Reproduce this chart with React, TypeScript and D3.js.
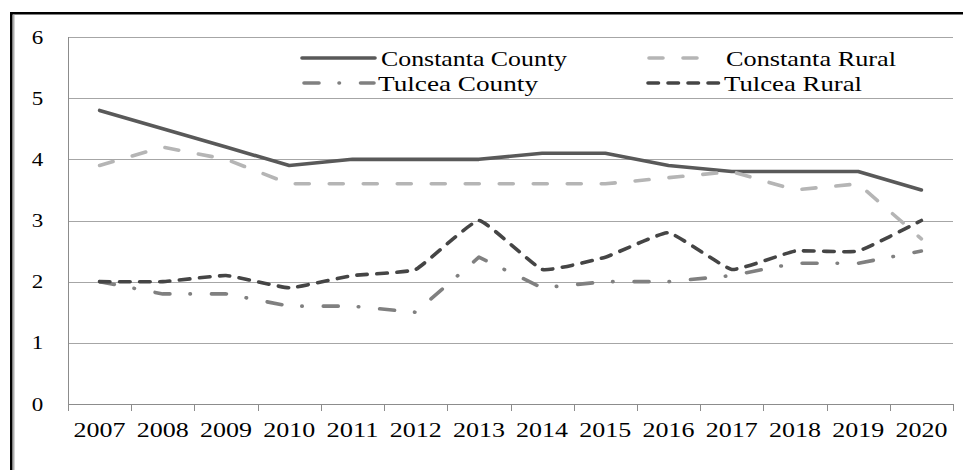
import React from "react";
import * as d3 from "d3";

const years = ["2007","2008","2009","2010","2011","2012","2013","2014","2015","2016","2017","2018","2019","2020"];
const constantaCounty = [4.8,4.5,4.2,3.9,4.0,4.0,4.0,4.1,4.1,3.9,3.8,3.8,3.8,3.5];
const constantaRural = [3.9,4.2,4.0,3.6,3.6,3.6,3.6,3.6,3.6,3.7,3.8,3.5,3.6,2.7];
const tulceaCounty = [2.0,1.8,1.8,1.6,1.6,1.5,2.4,1.9,2.0,2.0,2.1,2.3,2.3,2.5];
const tulceaRural = [2.0,2.0,2.1,1.9,2.1,2.2,3.0,2.2,2.4,2.8,2.2,2.5,2.5,3.0];
const yTicks = [0,1,2,3,4,5,6];

const W = 963, H = 470;
const plot = { left: 68, right: 953, top: 37, bottom: 404 };
const FONT = "'Liberation Serif', 'Times New Roman', serif";

type S = { name: string; values: number[]; color: string; dash: string; smooth: boolean; lx: number; ly: number; lx2: number; tx: number; tw: number };

const series: S[] = [
  { name: "Constanta County", values: constantaCounty, color: "#595959", dash: "none", smooth: false, lx: 302, lx2: 375, ly: 58, tx: 381, tw: 186 },
  { name: "Constanta Rural", values: constantaRural, color: "#b5b5b5", dash: "14,20", smooth: false, lx: 649, lx2: 702, ly: 58, tx: 726, tw: 170 },
  { name: "Tulcea County", values: tulceaCounty, color: "#808080", dash: "15,20,0.5,21", smooth: false, lx: 304, lx2: 374, ly: 83, tx: 378, tw: 160 },
  { name: "Tulcea Rural", values: tulceaRural, color: "#454545", dash: "10.5,9.5", smooth: true, lx: 648, lx2: 721, ly: 83, tx: 724, tw: 138 },
];

export default function App() {
  const x = d3.scaleBand<string>().domain(years).range([plot.left, plot.right]);
  const cx = (yr: string) => (x(yr) as number) + x.bandwidth() / 2;
  const y = d3.scaleLinear().domain([0, 6]).range([plot.bottom, plot.top]);

  const boundaries = years.map((yr) => x(yr) as number).concat([plot.right]);

  return (
    <svg width={W} height={H} style={{ position: "absolute", left: 0, top: 0, display: "block", background: "#fff" }}>
      <rect x={0} y={0} width={W} height={H} fill="#fff" />
      {/* frame */}
      <rect x={11.25} y={13.25} width={W + 20} height={H + 20} fill="none" stroke="#000" strokeWidth={2.5} />
      <line x1={13.8} x2={13.8} y1={14.5} y2={H} stroke="#9a9a9a" strokeWidth={1.2} />
      {/* gridlines */}
      {yTicks.filter((t) => t > 0).map((t) => (
        <line key={t} x1={plot.left} x2={plot.right} y1={Math.round(y(t)) + 0.5} y2={Math.round(y(t)) + 0.5} stroke="#a6a6a6" strokeWidth={1} />
      ))}
      {/* axes */}
      <line x1={plot.left + 0.5} x2={plot.left + 0.5} y1={plot.top} y2={plot.bottom} stroke="#8c8c8c" strokeWidth={1} />
      <line x1={plot.left} x2={plot.right} y1={plot.bottom + 0.5} y2={plot.bottom + 0.5} stroke="#8c8c8c" strokeWidth={1} />
      {boundaries.map((b, i) => (
        <line key={i} x1={Math.round(b) + 0.5} x2={Math.round(b) + 0.5} y1={plot.bottom} y2={plot.bottom + 7} stroke="#8c8c8c" strokeWidth={1} />
      ))}
      {/* y labels */}
      {yTicks.map((t) => (
        <text key={t} x={37.5} y={y(t) + 6.5} textAnchor="middle" fontFamily={FONT} fontSize={18} textLength={11.5} lengthAdjust="spacingAndGlyphs" fill="#000">{t}</text>
      ))}
      {/* x labels */}
      {years.map((yr) => (
        <text key={yr} x={cx(yr)} y={437} textAnchor="middle" fontFamily={FONT} fontSize={20} textLength={52} lengthAdjust="spacingAndGlyphs" fill="#000">{yr}</text>
      ))}
      {/* lines */}
      {series.map((s) => {
        const gen = d3.line<number>()
          .x((_, i) => cx(years[i]))
          .y((v) => y(v))
          .curve(s.smooth ? d3.curveCardinal.tension(0.65) : d3.curveLinear);
        return (
          <path key={s.name} d={gen(s.values) || ""} fill="none" stroke={s.color} strokeWidth={3.6}
            strokeDasharray={s.dash} strokeLinecap="round" strokeLinejoin="round" />
        );
      })}
      {/* legend */}
      {series.map((s) => (
        <g key={s.name + "-leg"}>
          <line x1={s.lx} x2={s.lx2} y1={s.ly} y2={s.ly} stroke={s.color} strokeWidth={3.6} strokeDasharray={s.dash} strokeLinecap="round" />
          <text x={s.tx} y={s.ly + 8} fontFamily={FONT} fontSize={22} textLength={s.tw} lengthAdjust="spacingAndGlyphs" fill="#000">{s.name}</text>
        </g>
      ))}
    </svg>
  );
}
